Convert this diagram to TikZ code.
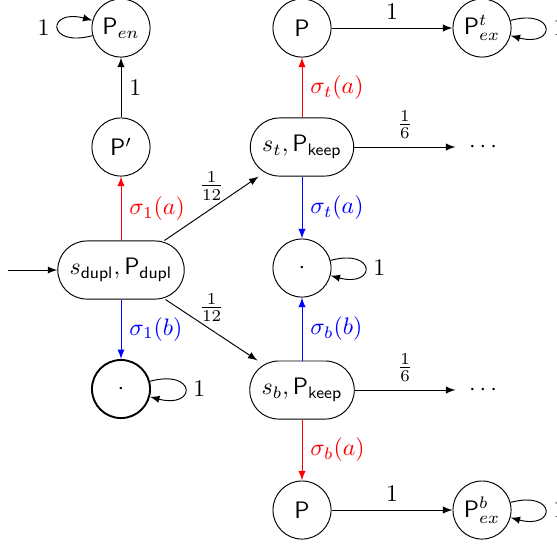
\documentclass[tikz,border=0pt]{standalone}
\usepackage{amsmath}
\begin{document}
\begin{tikzpicture}[x=0.42pt, y=-0.42pt, >=latex,
    state/.style={draw, circle, minimum size=24.4pt, inner sep=1pt},
    pairbox/.style={draw, rectangle, rounded corners=12.2pt, minimum height=24.4pt, inner xsep=5pt},
    dotsbox/.style={circle, minimum size=24.4pt, inner sep=1pt},
    every loop/.style={min distance=4.4mm}]
    \useasboundingbox (0,0) rectangle (557,544);

    % Left column
    \node[state] (pen) at (121,28) {$\mathsf{P}_{en}$};
    \node[state] (pprime) at (121,147) {$\mathsf{P}'$};
    \node[pairbox] (dupl) at (121,270) {$s_{\mathsf{dupl}}, \mathsf{P}_{\mathsf{dupl}}$};
    \node[state, thick] (sinkl) at (121,389) {$\cdot$};
    \coordinate (start) at (8,270);

    % Middle column
    \node[state] (ptop) at (302,28) {$\mathsf{P}$};
    \node[pairbox] (stkeep) at (302,147) {$s_t, \mathsf{P}_{\mathsf{keep}}$};
    \node[state] (sinkm) at (302,268) {$\cdot$};
    \node[pairbox] (sbkeep) at (302,390) {$s_b, \mathsf{P}_{\mathsf{keep}}$};
    \node[state] (pbot) at (302,510) {$\mathsf{P}$};

    % Right column
    \node[state] (pext) at (482,28) {$\mathsf{P}^{t}_{ex}$};
    \node[dotsbox] (dotst) at (485,147) {$\cdots$};
    \node[dotsbox] (dotsb) at (485,390) {$\cdots$};
    \node[state] (pexb) at (482,510) {$\mathsf{P}^{b}_{ex}$};

    % Transitions from the start state
    \draw[->] (start) -- (dupl);
    \draw[->, red] (dupl) -- node[right] {$\sigma_1(a)$} (pprime);
    \draw[->, blue] (dupl) -- node[right] {$\sigma_1(b)$} (sinkl);
    \draw[->] (dupl) -- node[above] {$\frac{1}{12}$} (stkeep);
    \draw[->] (dupl) -- node[above] {$\frac{1}{12}$} (sbkeep);
    \draw[->] (pprime) -- node[right] {$1$} (pen);

    % Transitions of the keep states
    \draw[->, red] (stkeep) -- node[right] {$\sigma_t(a)$} (ptop);
    \draw[->, blue] (stkeep) -- node[right] {$\sigma_t(a)$} (sinkm);
    \draw[->, blue] (sbkeep) -- node[right] {$\sigma_b(b)$} (sinkm);
    \draw[->, red] (sbkeep) -- node[right] {$\sigma_b(a)$} (pbot);
    \draw[->] (stkeep) -- node[above] {$\frac{1}{6}$} (dotst);
    \draw[->] (sbkeep) -- node[above] {$\frac{1}{6}$} (dotsb);
    \draw[->] (ptop) -- node[above] {$1$} (pext);
    \draw[->] (pbot) -- node[above] {$1$} (pexb);

    % Self loops
    \draw[->] (pen) to[loop left] node[left] {$1$} (pen);
    \draw[->] (sinkl) to[loop right] node[right] {$1$} (sinkl);
    \draw[->] (sinkm) to[loop right] node[right] {$1$} (sinkm);
    \draw[->] (pext) to[loop right] node[right] {$1$} (pext);
    \draw[->] (pexb) to[loop right] node[right] {$1$} (pexb);
\end{tikzpicture}
\end{document}
